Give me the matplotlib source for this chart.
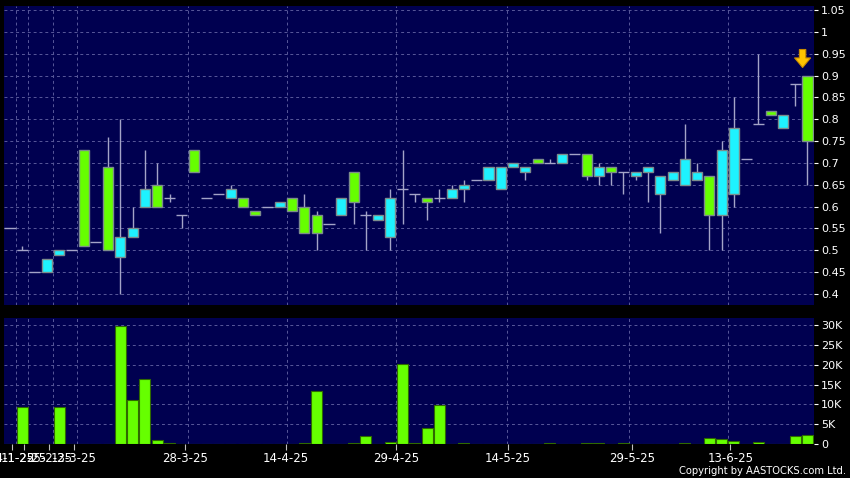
import matplotlib
matplotlib.use("Agg")
import matplotlib.pyplot as plt
import numpy as np

# ---------------- data ----------------
opens = [0.55, 0.50, 0.45, 0.48, 0.50, 0.50, 0.51, 0.52, 0.50, 0.53,
         0.55, 0.64, 0.60, 0.62, 0.58, 0.68, 0.62, 0.63, 0.64, 0.60,
         0.58, 0.60, 0.61, 0.59, 0.54, 0.54, 0.56, 0.62, 0.61, 0.58,
         0.58, 0.62, 0.64, 0.63, 0.61, 0.62, 0.64, 0.65, 0.66, 0.69,
         0.69, 0.70, 0.69, 0.70, 0.70, 0.72, 0.72, 0.67, 0.69, 0.68,
         0.68, 0.68, 0.69, 0.67, 0.68, 0.71, 0.68, 0.58, 0.73, 0.78,
         0.71, 0.79, 0.81, 0.81, 0.88, 0.75]
highs = [0.55, 0.51, 0.45, 0.48, 0.50, 0.50, 0.73, 0.52, 0.76, 0.80,
         0.60, 0.73, 0.70, 0.63, 0.58, 0.73, 0.62, 0.63, 0.65, 0.62,
         0.59, 0.60, 0.61, 0.62, 0.63, 0.59, 0.56, 0.62, 0.68, 0.59,
         0.58, 0.64, 0.73, 0.63, 0.62, 0.64, 0.65, 0.66, 0.66, 0.69,
         0.69, 0.70, 0.69, 0.71, 0.71, 0.72, 0.72, 0.72, 0.70, 0.69,
         0.68, 0.68, 0.69, 0.67, 0.68, 0.79, 0.70, 0.67, 0.75, 0.85,
         0.71, 0.95, 0.82, 0.81, 0.88, 0.90]
lows = [0.55, 0.50, 0.45, 0.45, 0.49, 0.50, 0.51, 0.52, 0.50, 0.40,
        0.53, 0.60, 0.60, 0.61, 0.55, 0.68, 0.62, 0.63, 0.62, 0.60,
        0.58, 0.60, 0.60, 0.59, 0.54, 0.50, 0.56, 0.58, 0.56, 0.50,
        0.57, 0.50, 0.56, 0.61, 0.57, 0.61, 0.62, 0.61, 0.66, 0.66,
        0.64, 0.69, 0.66, 0.70, 0.70, 0.70, 0.72, 0.66, 0.65, 0.65,
        0.63, 0.66, 0.61, 0.54, 0.66, 0.65, 0.66, 0.50, 0.50, 0.60,
        0.71, 0.79, 0.81, 0.78, 0.83, 0.65]
closes = [0.55, 0.50, 0.45, 0.45, 0.49, 0.50, 0.73, 0.52, 0.69, 0.485,
          0.53, 0.60, 0.65, 0.62, 0.58, 0.73, 0.62, 0.63, 0.62, 0.62,
          0.59, 0.60, 0.60, 0.62, 0.60, 0.58, 0.56, 0.58, 0.68, 0.58,
          0.57, 0.53, 0.64, 0.63, 0.62, 0.62, 0.62, 0.64, 0.66, 0.66,
          0.64, 0.69, 0.68, 0.71, 0.70, 0.70, 0.72, 0.72, 0.67, 0.69,
          0.68, 0.67, 0.68, 0.63, 0.66, 0.65, 0.66, 0.67, 0.58, 0.63,
          0.71, 0.79, 0.82, 0.78, 0.88, 0.90]
volumes = [0, 9300, 0, 0, 9400, 0, 100, 0, 100, 29800,
           11000, 16500, 1100, 200, 50, 0, 0, 0, 0, 0,
           0, 0, 0, 0, 200, 13500, 100, 0, 200, 1900,
           0, 600, 20300, 200, 4100, 9800, 0, 200, 0, 100,
           0, 0, 0, 0, 200, 0, 0, 200, 200, 0,
           200, 0, 0, 100, 0, 200, 0, 1400, 1300, 850,
           0, 600, 0, 100, 2100, 2350]

date_labels = ["14-1-25", "11-2-25", "25-2-25", "13-3-25", "28-3-25",
               "14-4-25", "29-4-25", "14-5-25", "29-5-25", "13-6-25"]
date_tick_pos = [0.16, 1.14, 3.18, 5.2, 14.26, 22.5, 31.5, 40.6, 50.7, 58.7]
date_grid_pos = [0.5, 1.5, 3.5, 5.5, 14.5, 22.55, 31.5, 40.5, 50.45, 58.5]

price_ticks = [0.4, 0.45, 0.5, 0.55, 0.6, 0.65, 0.7, 0.75, 0.8, 0.85, 0.9, 0.95, 1.0, 1.05]
price_tick_labels = ["0.4", "0.45", "0.5", "0.55", "0.6", "0.65", "0.7", "0.75",
                     "0.8", "0.85", "0.9", "0.95", "1", "1.05"]
vol_ticks = [0, 5000, 10000, 15000, 20000, 25000, 30000]
vol_tick_labels = ["0", "5K", "10K", "15K", "20K", "25K", "30K"]

# ---------------- style ----------------
BG = "#000050"
GRID = "#58589a"
UP = "#66ff00"
DOWN = "#1ef2ff"
WICK = "#a4a4c8"
EDGE = "#7c8c8c"

W, H = 850, 478
fig = plt.figure(figsize=(W / 100, H / 100), dpi=100, facecolor="black")
ax1 = fig.add_axes([4 / W, 1 - 305 / H, 810 / W, 299 / H])
ax2 = fig.add_axes([4 / W, 1 - 444 / H, 810 / W, 126 / H])

x = np.arange(len(opens))
o = np.array(opens); c = np.array(closes)
h = np.array(highs); l = np.array(lows)

for ax in (ax1, ax2):
    ax.set_facecolor(BG)
    for s in ax.spines.values():
        s.set_visible(False)
    for gx in date_grid_pos:
        ax.axvline(gx, color=GRID, lw=0.7, ls=(0, (3, 3)), zorder=0)
    ax.set_xlim(-0.49, 65.53)

# price grid
for py in price_ticks:
    ax1.axhline(py, color=GRID, lw=0.7, ls=(0, (3, 3)), zorder=0)

# wicks
ax1.vlines(x, l, h, color=WICK, lw=1.0, zorder=2)
# bodies
bw = 0.82
doji = np.isclose(o, c)
up = (c > o) & ~doji
dn = (c < o) & ~doji
ax1.bar(x[up], (c - o)[up], bottom=o[up], width=bw, color=UP,
        edgecolor=EDGE, linewidth=1.0, zorder=3)
ax1.bar(x[dn], (o - c)[dn], bottom=c[dn], width=bw, color=DOWN,
        edgecolor=EDGE, linewidth=1.0, zorder=3)
ax1.hlines(o[doji], x[doji] - 0.45, x[doji] + 0.45, color=WICK, lw=1.0, zorder=3)

ax1.set_ylim(0.3748, 1.0592)
ax1.yaxis.tick_right()
ax1.set_yticks(price_ticks)
ax1.set_yticklabels(price_tick_labels)
ax1.tick_params(axis="y", colors="white", labelcolor="white", length=3, width=0.8,
                pad=2, labelsize=8)
ax1.tick_params(axis="x", bottom=False, labelbottom=False)

# arrow marker on the last candle
ax1.annotate("", xy=(64.6, 0.912), xytext=(64.6, 0.966),
             arrowprops=dict(arrowstyle="simple,head_width=1.0,head_length=0.6,tail_width=0.4",
                             mutation_scale=11.5, fc="#ffc400", ec="#c88a00", lw=0.8),
             zorder=5)

# volume
for vy in vol_ticks[1:]:
    ax2.axhline(vy, color=GRID, lw=0.7, ls=(0, (3, 3)), zorder=0)
ax2.bar(x, volumes, width=0.9, color=UP, edgecolor="#2f6a00", linewidth=0.8, zorder=3)
ax2.set_ylim(0, 31800)
ax2.yaxis.tick_right()
ax2.set_yticks(vol_ticks)
ax2.set_yticklabels(vol_tick_labels)
ax2.tick_params(axis="y", colors="white", labelcolor="white", length=3, width=0.8,
                pad=2, labelsize=8)
ax2.set_xticks(date_tick_pos)
ax2.set_xticklabels(date_labels)
ax2.tick_params(axis="x", colors="#c0c0c0", labelcolor="white", length=4, width=0.8,
                pad=2, labelsize=8.5)

fig.text(846 / W, 1 - 471 / H, "Copyright by AASTOCKS.com Ltd.", color="white",
         fontsize=7.2, ha="right", va="center")

fig.savefig("out.png", dpi=100, facecolor="black")
